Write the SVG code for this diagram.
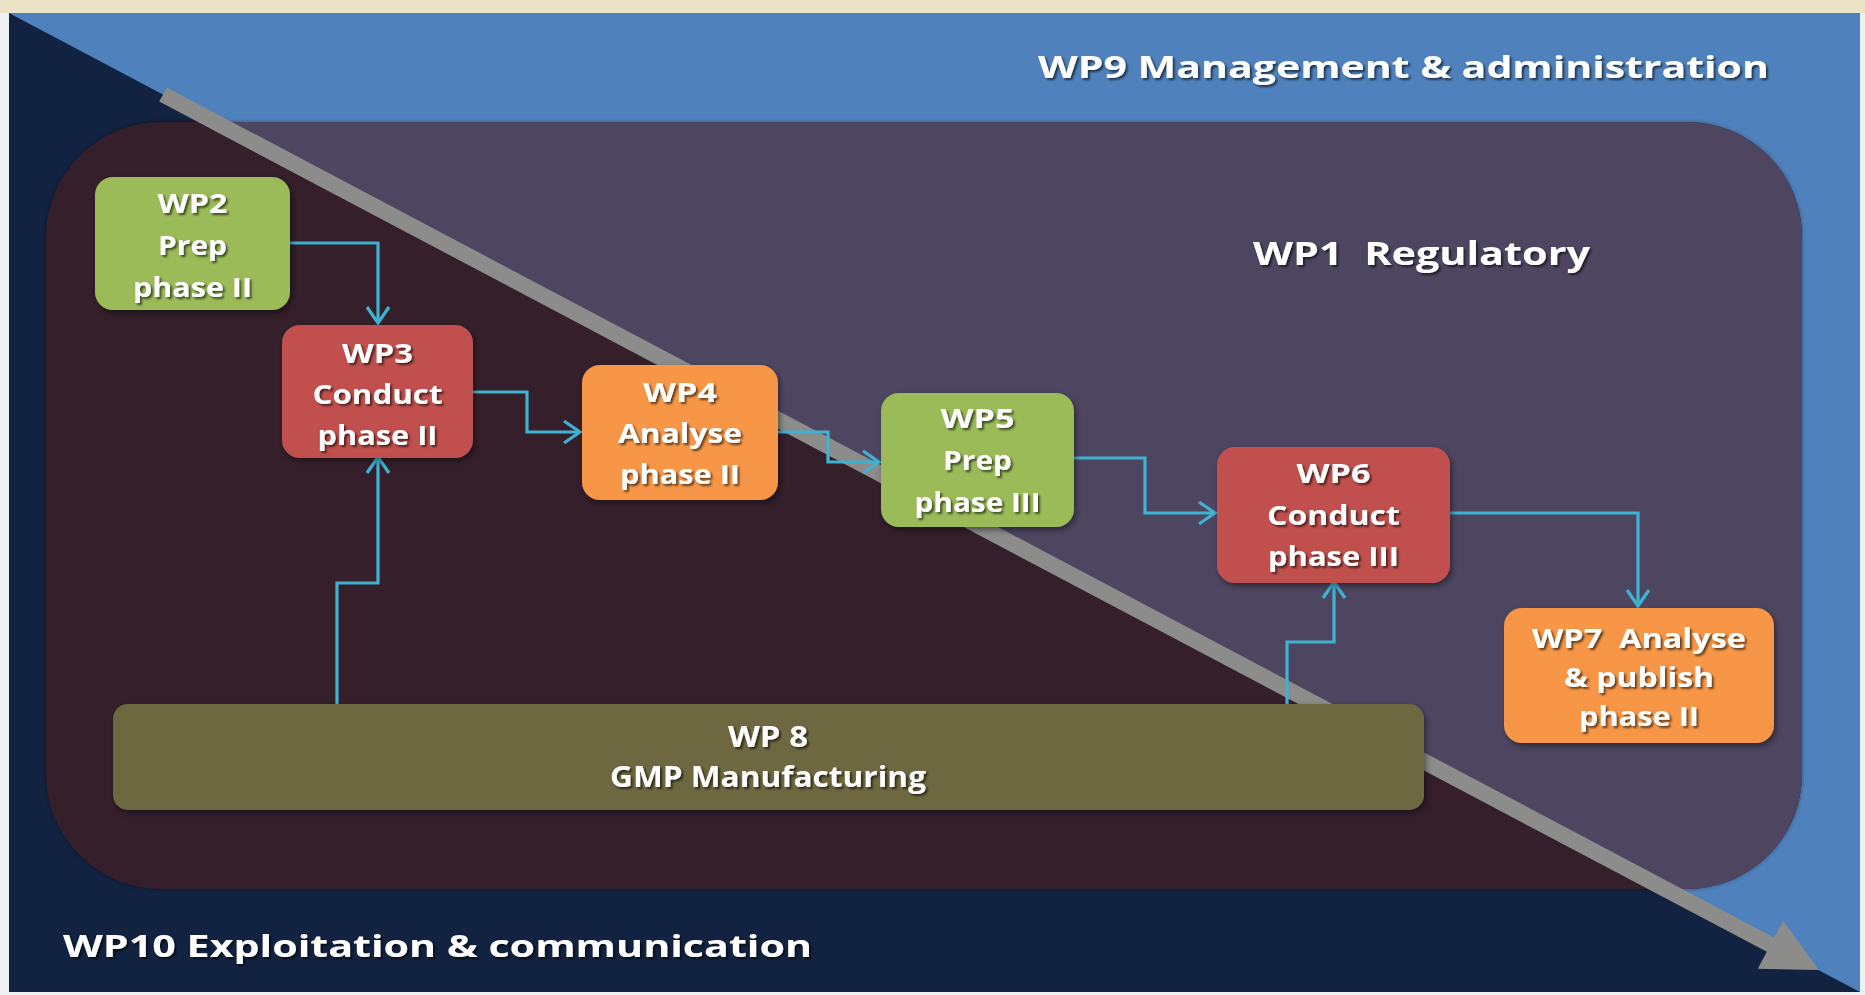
<svg xmlns="http://www.w3.org/2000/svg" width="1865" height="995" viewBox="0 0 1865 995">
  <style>
    .lbl { font-family: "Open Sans", "Liberation Sans", sans-serif; font-weight: bold; fill: #ffffff; text-anchor: middle; white-space: pre; }
    .big { font-family: "Open Sans", "Liberation Sans", sans-serif; font-weight: bold; fill: #ffffff; white-space: pre; }
    .node { filter: url(#nshadow); }
    .conn { fill: none; stroke: #3fb2d2; stroke-width: 3.2; marker-end: url(#ah); }
  </style>
  <defs>
    <filter id="tshadow" x="-10%" y="-30%" width="120%" height="160%">
      <feDropShadow dx="2" dy="2" stdDeviation="1.3" flood-color="#000000" flood-opacity="0.6"/>
    </filter>
    <filter id="nshadow" x="-10%" y="-10%" width="125%" height="130%">
      <feDropShadow dx="2" dy="3" stdDeviation="3" flood-color="#000000" flood-opacity="0.45"/>
    </filter>
    <filter id="soft" x="-5%" y="-5%" width="110%" height="110%">
      <feGaussianBlur stdDeviation="2"/>
    </filter>
    <marker id="ah" viewBox="0 0 20 26" refX="18" refY="13" markerWidth="20" markerHeight="26" markerUnits="userSpaceOnUse" orient="auto">
      <path d="M2,2 L18,13 L2,24" fill="none" stroke="#3fb2d2" stroke-width="3.2"/>
    </marker>
    <clipPath id="upper">
      <polygon points="9,13 1860,13 1860,992"/>
    </clipPath>
  </defs>

  <!-- page -->
  <rect x="0" y="0" width="1865" height="995" fill="#eef0f2"/>
  <rect x="0" y="0" width="1865" height="13" fill="#ebe3c6"/>

  <!-- background quadrants -->
  <rect x="9" y="13" width="1851" height="979" fill="#4f81bd"/>
  <polygon points="9,13 9,992 1860,992" fill="#112340"/>

  <!-- WP1 region -->
  <g id="wp1-region">
    <rect x="46" y="122" width="1756" height="767" rx="115" ry="115" fill="#000000" opacity="0.35" filter="url(#soft)"/>
    <rect x="46" y="122" width="1756" height="767" rx="115" ry="115" fill="#341f2b"/>
    <rect x="46" y="122" width="1756" height="767" rx="115" ry="115" fill="#4e4661" clip-path="url(#upper)"/>
  </g>

  <!-- gray timeline arrow -->
  <g id="timeline">
    <line x1="163" y1="94.5" x2="1772" y2="945.5" stroke="#8c8c8a" stroke-width="16"/>
    <polygon points="1819,970 1757.8,968.7 1783.2,920.7" fill="#8c8c8a"/>
  </g>

  <!-- region labels -->
  <g id="wp9" filter="url(#tshadow)">
    <text class="big" x="1038" y="78" font-size="30" textLength="731" lengthAdjust="spacingAndGlyphs">WP9 Management &amp; administration</text>
  </g>
  <g id="wp1" filter="url(#tshadow)">
    <text class="big" x="1253" y="265" font-size="33" textLength="337" lengthAdjust="spacingAndGlyphs">WP1  Regulatory</text>
  </g>
  <g id="wp10" filter="url(#tshadow)">
    <text class="big" x="63" y="957" font-size="30" textLength="749" lengthAdjust="spacingAndGlyphs">WP10 Exploitation &amp; communication</text>
  </g>

  <!-- connectors -->
  <g id="connectors">
    <path class="conn" d="M290,243 H378 V323"/>
    <path class="conn" d="M473,392 H527 V432 H580"/>
    <path class="conn" d="M778,432 H828 V462 H879"/>
    <path class="conn" d="M1074,458 H1145 V513 H1215"/>
    <path class="conn" d="M1450,513 H1638 V606"/>
    <path class="conn" d="M337,704 V583 H378 V457"/>
    <path class="conn" d="M1287,704 V642 H1334 V582"/>
  </g>

  <!-- nodes -->
  <g id="wp2" class="node">
    <rect x="95" y="177" width="195" height="133" rx="18" fill="#9bbb59"/>
    <g filter="url(#tshadow)">
      <text class="lbl" x="192.5" y="213" font-size="26.5" textLength="70" lengthAdjust="spacingAndGlyphs">WP2</text>
      <text class="lbl" x="192.5" y="255" font-size="26.5" textLength="69" lengthAdjust="spacingAndGlyphs">Prep</text>
      <text class="lbl" x="192.5" y="297" font-size="26.5" textLength="119" lengthAdjust="spacingAndGlyphs">phase II</text>
    </g>
  </g>

  <g id="wp3" class="node">
    <rect x="282" y="325" width="191" height="133" rx="18" fill="#c0504d"/>
    <g filter="url(#tshadow)">
      <text class="lbl" x="377.5" y="363" font-size="26.5" textLength="71" lengthAdjust="spacingAndGlyphs">WP3</text>
      <text class="lbl" x="377.5" y="404" font-size="26.5" textLength="130" lengthAdjust="spacingAndGlyphs">Conduct</text>
      <text class="lbl" x="377.5" y="445" font-size="26.5" textLength="120" lengthAdjust="spacingAndGlyphs">phase II</text>
    </g>
  </g>

  <g id="wp4" class="node">
    <rect x="582" y="365" width="196" height="135" rx="18" fill="#f79646"/>
    <g filter="url(#tshadow)">
      <text class="lbl" x="680" y="402" font-size="26.5" textLength="74" lengthAdjust="spacingAndGlyphs">WP4</text>
      <text class="lbl" x="680" y="443" font-size="26.5" textLength="124" lengthAdjust="spacingAndGlyphs">Analyse</text>
      <text class="lbl" x="680" y="484" font-size="26.5" textLength="120" lengthAdjust="spacingAndGlyphs">phase II</text>
    </g>
  </g>

  <g id="wp5" class="node">
    <rect x="881" y="393" width="193" height="134" rx="18" fill="#9bbb59"/>
    <g filter="url(#tshadow)">
      <text class="lbl" x="977.5" y="428" font-size="26.5" textLength="74" lengthAdjust="spacingAndGlyphs">WP5</text>
      <text class="lbl" x="977.5" y="470" font-size="26.5" textLength="69" lengthAdjust="spacingAndGlyphs">Prep</text>
      <text class="lbl" x="977.5" y="512" font-size="26.5" textLength="126" lengthAdjust="spacingAndGlyphs">phase III</text>
    </g>
  </g>

  <g id="wp6" class="node">
    <rect x="1217" y="447" width="233" height="136" rx="18" fill="#c0504d"/>
    <g filter="url(#tshadow)">
      <text class="lbl" x="1333.5" y="483" font-size="26.5" textLength="74" lengthAdjust="spacingAndGlyphs">WP6</text>
      <text class="lbl" x="1333.5" y="525" font-size="26.5" textLength="133" lengthAdjust="spacingAndGlyphs">Conduct</text>
      <text class="lbl" x="1333.5" y="566" font-size="26.5" textLength="131" lengthAdjust="spacingAndGlyphs">phase III</text>
    </g>
  </g>

  <g id="wp7" class="node">
    <rect x="1504" y="608" width="270" height="135" rx="18" fill="#f79646"/>
    <g filter="url(#tshadow)">
      <text class="lbl" x="1639" y="648" font-size="26.5" textLength="214" lengthAdjust="spacingAndGlyphs">WP7  Analyse</text>
      <text class="lbl" x="1639" y="687" font-size="26.5" textLength="150" lengthAdjust="spacingAndGlyphs">&amp; publish</text>
      <text class="lbl" x="1639" y="726" font-size="26.5" textLength="120" lengthAdjust="spacingAndGlyphs">phase II</text>
    </g>
  </g>

  <g id="wp8" class="node">
    <rect x="113" y="704" width="1311" height="106" rx="15" fill="#6d673f"/>
    <g filter="url(#tshadow)">
      <text class="lbl" x="768" y="747" font-size="28.5" textLength="80" lengthAdjust="spacingAndGlyphs">WP 8</text>
      <text class="lbl" x="768" y="787" font-size="28.5" textLength="316" lengthAdjust="spacingAndGlyphs">GMP Manufacturing</text>
    </g>
  </g>
</svg>
